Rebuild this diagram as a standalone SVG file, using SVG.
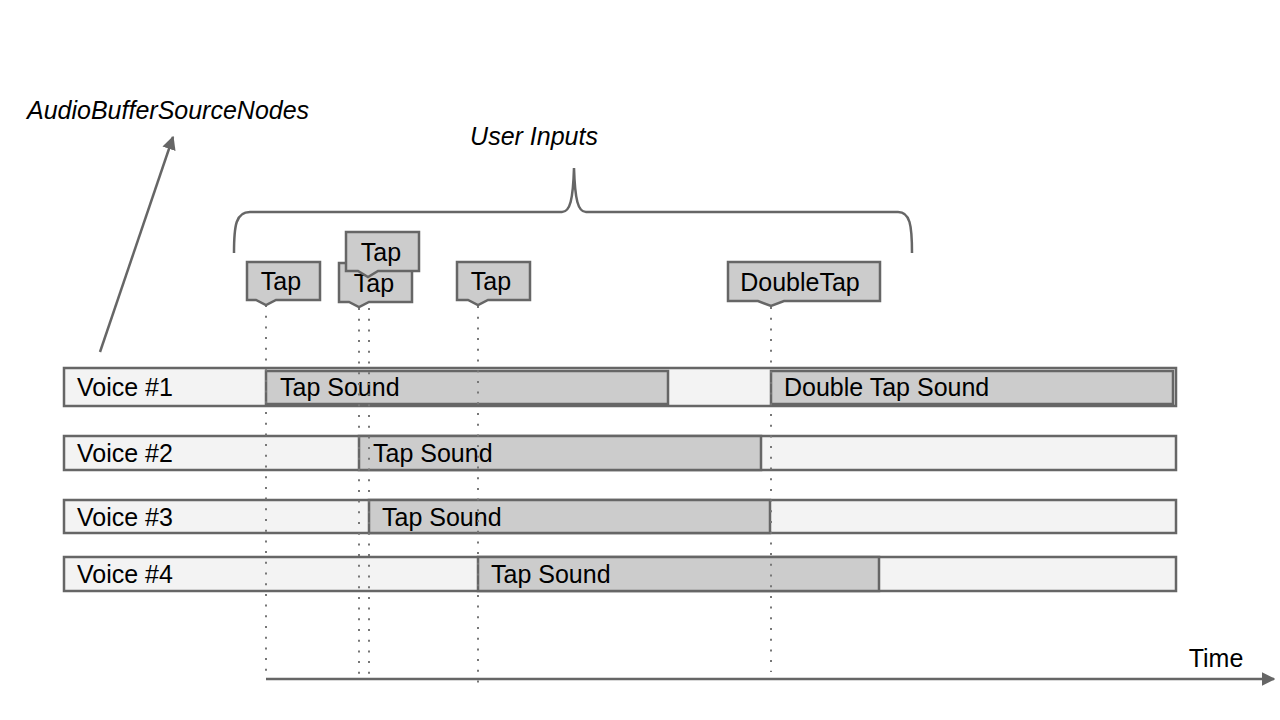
<svg xmlns="http://www.w3.org/2000/svg" width="1280" height="720" viewBox="0 0 1280 720">
<defs>
<style>
text{font-family:"Liberation Sans",Arial,sans-serif;font-size:25px;fill:#000}
.it{font-style:italic}
.row{fill:#f3f3f3;stroke:#666;stroke-width:2.5}
.snd{fill:#cccccc;stroke:#666;stroke-width:2.5}
.call{fill:#cccccc;stroke:#666;stroke-width:2.5;stroke-linejoin:miter}
.dot{stroke:#777;stroke-width:2;stroke-dasharray:2 8.7;fill:none}
.ln{stroke:#666;stroke-width:2.5;fill:none}
</style>
<marker id="ah" viewBox="0 0 10 10" refX="9" refY="5" markerWidth="5.5" markerHeight="5.5" orient="auto" markerUnits="strokeWidth">
<path d="M0,0 L10,5 L0,10 z" fill="#666"/>
</marker>
</defs>
<rect width="1280" height="720" fill="#fff"/>

<g id="voice1">
<rect class="row" x="64" y="368" width="1112" height="38"/>
<text x="77" y="396">Voice #1</text>
</g>
<g id="voice2">
<rect class="row" x="64" y="436" width="1112" height="34"/>
<text x="77" y="462">Voice #2</text>
</g>
<g id="voice3">
<rect class="row" x="64" y="500" width="1112" height="33"/>
<text x="77" y="526">Voice #3</text>
</g>
<g id="voice4">
<rect class="row" x="64" y="557" width="1112" height="34"/>
<text x="77" y="583">Voice #4</text>
</g>

<g id="sound1">
<rect class="snd" x="266" y="371" width="402" height="33"/>
<text x="280" y="396">Tap Sound</text>
</g>
<g id="sound-double">
<rect class="snd" x="771" y="371" width="402" height="33"/>
<text x="784" y="396">Double Tap Sound</text>
</g>
<g id="sound2">
<rect class="snd" x="359" y="436" width="402" height="34"/>
<text x="373" y="462">Tap Sound</text>
</g>
<g id="sound3">
<rect class="snd" x="369" y="500" width="401" height="33"/>
<text x="382" y="526">Tap Sound</text>
</g>
<g id="sound4">
<rect class="snd" x="478" y="557" width="401" height="34"/>
<text x="491" y="583">Tap Sound</text>
</g>

<g id="connectors">
<line class="dot" x1="266" y1="305" x2="266" y2="672"/>
<line class="dot" x1="359" y1="308" x2="359" y2="678"/>
<line class="dot" x1="369" y1="308" x2="369" y2="678"/>
<line class="dot" x1="478" y1="306" x2="478" y2="685"/>
<line class="dot" x1="771" y1="307" x2="771" y2="672"/>
<line class="ln" x1="266" y1="679" x2="1274" y2="679" marker-end="url(#ah)"/>
<line class="ln" x1="100" y1="352" x2="173" y2="137" marker-end="url(#ah)"/>
<path class="ln" d="M234,253 C234,225 236,212 250,212 L562,212 C570,212 573,200 574,168 C575,200 578,212 586,212 L898,212 C910,212 912,225 912,253"/>
</g>

<g id="tap1">
<path class="call" d="M247,262 H320 V300 H276 L266,305 L256,300 H247 Z"/>
<text x="281" y="290" text-anchor="middle">Tap</text>
</g>
<g id="tap2">
<path class="call" d="M339,263 H412 V302 H369 L359,307 L349,302 H339 Z"/>
<text x="374" y="292" text-anchor="middle">Tap</text>
</g>
<g id="tap3">
<path class="call" d="M346,232 H419 V271 H378 L368,277 L358,271 H346 Z"/>
<text x="381" y="261" text-anchor="middle">Tap</text>
</g>
<g id="tap4">
<path class="call" d="M457,262 H530 V300 H488 L478,305 L468,300 H457 Z"/>
<text x="491" y="290" text-anchor="middle">Tap</text>
</g>
<g id="doubletap">
<path class="call" d="M728,262 H880 V301 H784 L771,306 L758,301 H728 Z"/>
<text x="800" y="291" text-anchor="middle">DoubleTap</text>
</g>

<g id="labels">
<text class="it" x="27" y="119">AudioBufferSourceNodes</text>
<text class="it" x="534" y="145" text-anchor="middle">User Inputs</text>
<text x="1216" y="667" text-anchor="middle">Time</text>
</g>
</svg>
